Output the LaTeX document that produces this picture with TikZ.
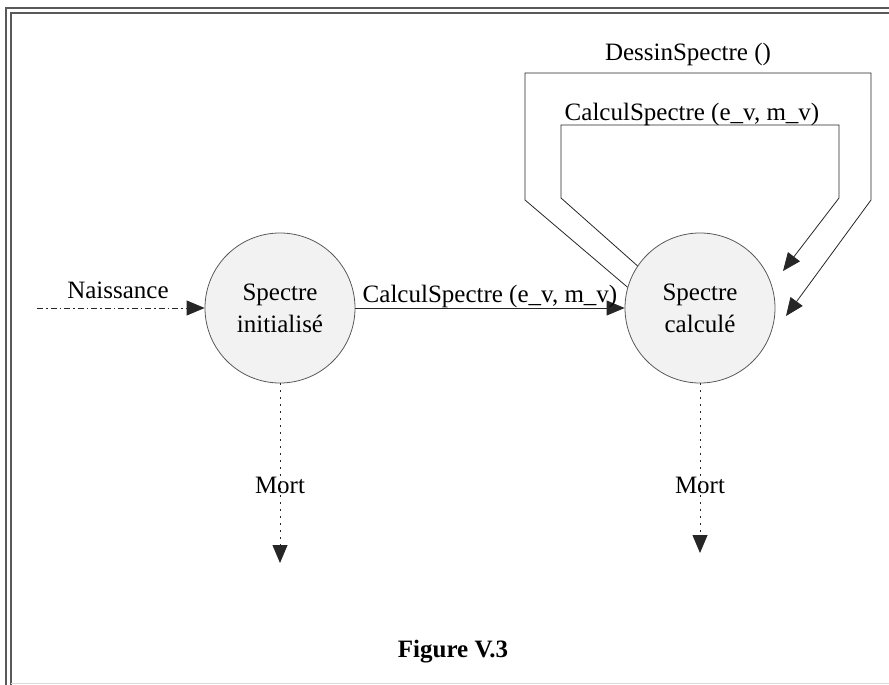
\documentclass[tikz,border=0pt]{standalone}
\usepackage{fontspec}
\setmainfont{Liberation Serif}
\usetikzlibrary{arrows.meta}

\begin{document}
\begin{tikzpicture}[x=1pt,y=-1pt,font=\fontsize{25}{32}\selectfont,
  etat/.style={circle,draw=black!65,line width=0.8pt,fill=black!5,minimum size=150pt,inner sep=0pt,align=center},
  fleche/.style={-{Triangle[length=18pt,width=15pt]}},
  lien/.style={draw=black!85,line width=0.8pt}]
\useasboundingbox (0,0) rectangle (889,685);
% cadre
\draw[black!65,line width=1.5pt] (6,685) -- (6,8) -- (889,8);
\draw[black!65,line width=1.5pt] (11,685) -- (11,13) -- (889,13);
\draw[black!15,line width=1pt] (11,683) -- (889,683);
% etats
\node[etat] (spi) at (280,308) {Spectre\\initialisé};
\node[etat] (spc) at (700,308) {Spectre\\calculé};
% naissance
\coordinate (nais) at (37,308);
\draw[lien,fleche,dash pattern=on 6pt off 3pt on 1.5pt off 3pt] (nais) -- (spi);
\node[anchor=base] (lnais) at (118,298) {Naissance};
% transition
\draw[lien,fleche] (spi) -- (spc);
\node[anchor=base] (lcalc) at (490,302) {CalculSpectre (e\_v, m\_v)};
% boucles
\coordinate (o1) at (525,200); \coordinate (o2) at (525,73);
\coordinate (o3) at (871,73); \coordinate (o4) at (871,200);
\coordinate (tb) at (786,316);
\draw[lien,fleche] (spc.164) -- (o1) -- (o2) -- (o3) -- (o4) -- (tb);
\node[anchor=base] (ldessin) at (688,61) {DessinSpectre ()};
\coordinate (i1) at (561,198); \coordinate (i2) at (561,125);
\coordinate (i3) at (839,125); \coordinate (i4) at (839,198);
\coordinate (ta) at (783,271);
\draw[lien,fleche] (spc.146) -- (i1) -- (i2) -- (i3) -- (i4) -- (ta);
\node[anchor=base] (lboucle) at (692,121) {CalculSpectre (e\_v, m\_v)};
% mort
\coordinate (morta) at (280,563);
\coordinate (mortb) at (700,553);
\draw[lien,fleche,dash pattern=on 2pt off 5pt] (spi) -- (morta);
\draw[lien,fleche,dash pattern=on 2pt off 5pt] (spc) -- (mortb);
\node[anchor=base] (lmorta) at (280,493) {Mort};
\node[anchor=base] (lmortb) at (700,493) {Mort};
% titre
\node (titre) at (453,652) {\bfseries Figure V.3};
\end{tikzpicture}
\end{document}
